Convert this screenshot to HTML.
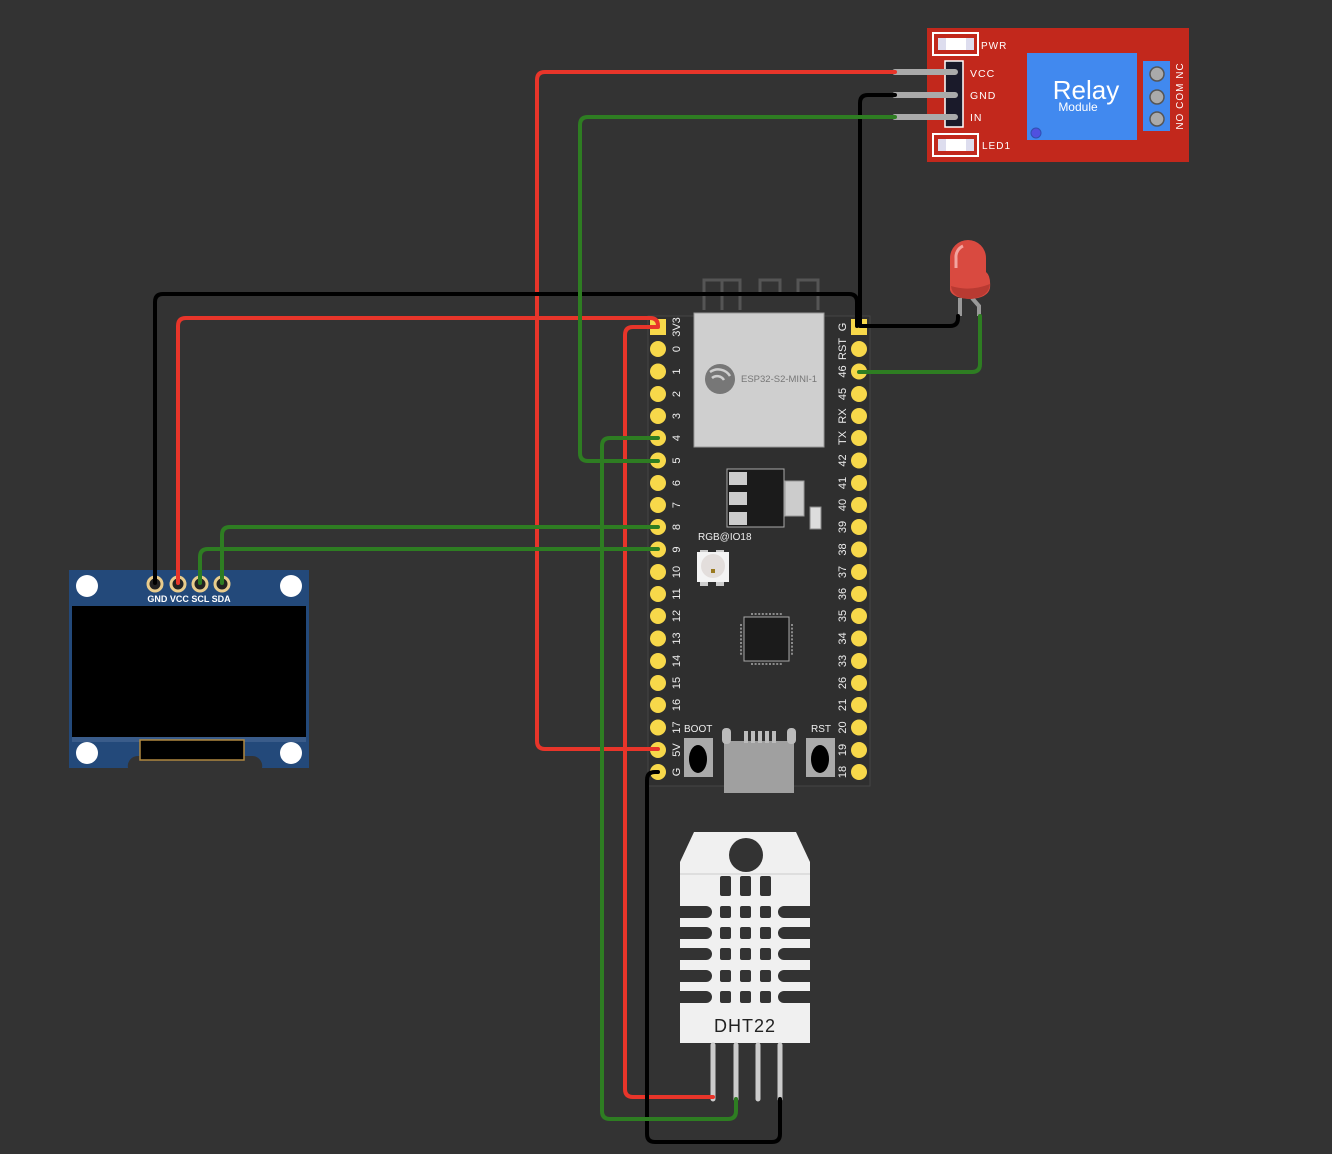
<!DOCTYPE html>
<html><head><meta charset="utf-8"><style>
html,body{margin:0;padding:0;background:#333;}
svg{display:block;}
text{font-family:"Liberation Sans",sans-serif;}
</style></head><body>
<svg width="1332" height="1154" viewBox="0 0 1332 1154" xmlns="http://www.w3.org/2000/svg">
<rect width="1332" height="1154" fill="#333"/>

<g fill="none" stroke="#555" stroke-width="3">
<path d="M704 310 V280 H740 V310 M722 280 V310 M760 296 V280 H780 V296 M798 296 V280 H818 V310"/>
</g>
<rect x="648" y="316" width="222" height="470" fill="#2f2f2f" stroke="#444" stroke-width="1"/>
<rect x="694" y="313" width="130" height="134" fill="#cfcfcf" stroke="#999" stroke-width="1"/>
<circle cx="720" cy="379" r="15" fill="#777"/>
<path d="M710 372 a14 14 0 0 1 20 4 M712 378 a8 8 0 0 1 12 2" stroke="#cfcfcf" stroke-width="2.5" fill="none"/>
<text x="741" y="382" font-family="Liberation Serif,serif" font-size="9.5" fill="#777">ESP32-S2-MINI-1</text>
<rect x="727" y="469" width="57" height="58" fill="#1b1b1b" stroke="#aaa" stroke-width="1"/>
<rect x="729" y="472" width="18" height="13" fill="#ccc"/>
<rect x="729" y="492" width="18" height="13" fill="#ccc"/>
<rect x="729" y="512" width="18" height="13" fill="#ccc"/>
<rect x="785" y="481" width="19" height="35" fill="#ccc" stroke="#999"/>
<rect x="810" y="507" width="11" height="22" fill="#ddd" stroke="#888"/>
<text x="698" y="540" font-size="10" fill="#eee">RGB@IO18</text>
<rect x="700" y="550" width="8" height="36" fill="#ccc"/>
<rect x="716" y="550" width="8" height="36" fill="#ccc"/>
<rect x="697" y="552" width="32" height="30" fill="#f4f4f4"/>
<circle cx="713" cy="566" r="12" fill="#e3dedc"/>
<rect x="711" y="569" width="4" height="4" fill="#9a7a20"/>
<rect x="744" y="617" width="45" height="44" fill="#1b1b1b" stroke="#aaa" stroke-width="1"/>
<g stroke="#aaa" stroke-width="1.5" stroke-dasharray="2 1.6">
<path d="M751 614 H783 M751 664 H783 M741 624 V656 M792 624 V656"/>
</g>
<text x="684" y="732" font-size="10" fill="#eee">BOOT</text>
<text x="811" y="732" font-size="10" fill="#eee">RST</text>
<rect x="684" y="738" width="29" height="39" fill="#aaa"/>
<ellipse cx="698" cy="759" rx="9" ry="14" fill="#000"/>
<rect x="806" y="738" width="29" height="39" fill="#aaa"/>
<ellipse cx="820" cy="759" rx="9" ry="14" fill="#000"/>
<rect x="724" y="741" width="70" height="52" fill="#a0a0a0"/>
<rect x="722" y="728" width="9" height="16" rx="4" fill="#bbb"/>
<rect x="787" y="728" width="9" height="16" rx="4" fill="#bbb"/>
<g fill="#bbb"><rect x="744" y="731" width="4" height="12"/><rect x="751" y="731" width="4" height="12"/><rect x="758" y="731" width="4" height="12"/><rect x="765" y="731" width="4" height="12"/><rect x="772" y="731" width="4" height="12"/></g>

<g fill="#f7d84a">
<rect x="650" y="319" width="16" height="16"/>
<circle cx="658" cy="349" r="8"/><circle cx="658" cy="371.5" r="8"/><circle cx="658" cy="394" r="8"/><circle cx="658" cy="416" r="8"/><circle cx="658" cy="438" r="8"/><circle cx="658" cy="460.5" r="8"/><circle cx="658" cy="483" r="8"/><circle cx="658" cy="505" r="8"/><circle cx="658" cy="527" r="8"/><circle cx="658" cy="549.5" r="8"/><circle cx="658" cy="572" r="8"/><circle cx="658" cy="594" r="8"/><circle cx="658" cy="616" r="8"/><circle cx="658" cy="638.5" r="8"/><circle cx="658" cy="661" r="8"/><circle cx="658" cy="683" r="8"/><circle cx="658" cy="705" r="8"/><circle cx="658" cy="727.5" r="8"/><circle cx="658" cy="750" r="8"/><circle cx="658" cy="772" r="8"/>
<rect x="851" y="319" width="16" height="16"/>
<circle cx="859" cy="349" r="8"/><circle cx="859" cy="371.5" r="8"/><circle cx="859" cy="394" r="8"/><circle cx="859" cy="416" r="8"/><circle cx="859" cy="438" r="8"/><circle cx="859" cy="460.5" r="8"/><circle cx="859" cy="483" r="8"/><circle cx="859" cy="505" r="8"/><circle cx="859" cy="527" r="8"/><circle cx="859" cy="549.5" r="8"/><circle cx="859" cy="572" r="8"/><circle cx="859" cy="594" r="8"/><circle cx="859" cy="616" r="8"/><circle cx="859" cy="638.5" r="8"/><circle cx="859" cy="661" r="8"/><circle cx="859" cy="683" r="8"/><circle cx="859" cy="705" r="8"/><circle cx="859" cy="727.5" r="8"/><circle cx="859" cy="750" r="8"/><circle cx="859" cy="772" r="8"/>
</g>
<g font-size="11" fill="#eee" text-anchor="middle">
<text transform="translate(680,327) rotate(-90)">3V3</text>
<text transform="translate(680,349) rotate(-90)">0</text>
<text transform="translate(680,371.5) rotate(-90)">1</text>
<text transform="translate(680,394) rotate(-90)">2</text>
<text transform="translate(680,416) rotate(-90)">3</text>
<text transform="translate(680,438) rotate(-90)">4</text>
<text transform="translate(680,460.5) rotate(-90)">5</text>
<text transform="translate(680,483) rotate(-90)">6</text>
<text transform="translate(680,505) rotate(-90)">7</text>
<text transform="translate(680,527) rotate(-90)">8</text>
<text transform="translate(680,549.5) rotate(-90)">9</text>
<text transform="translate(680,572) rotate(-90)">10</text>
<text transform="translate(680,594) rotate(-90)">11</text>
<text transform="translate(680,616) rotate(-90)">12</text>
<text transform="translate(680,638.5) rotate(-90)">13</text>
<text transform="translate(680,661) rotate(-90)">14</text>
<text transform="translate(680,683) rotate(-90)">15</text>
<text transform="translate(680,705) rotate(-90)">16</text>
<text transform="translate(680,727.5) rotate(-90)">17</text>
<text transform="translate(680,750) rotate(-90)">5V</text>
<text transform="translate(680,772) rotate(-90)">G</text>
<text transform="translate(846,327) rotate(-90)">G</text>
<text transform="translate(846,349) rotate(-90)">RST</text>
<text transform="translate(846,371.5) rotate(-90)">46</text>
<text transform="translate(846,394) rotate(-90)">45</text>
<text transform="translate(846,416) rotate(-90)">RX</text>
<text transform="translate(846,438) rotate(-90)">TX</text>
<text transform="translate(846,460.5) rotate(-90)">42</text>
<text transform="translate(846,483) rotate(-90)">41</text>
<text transform="translate(846,505) rotate(-90)">40</text>
<text transform="translate(846,527) rotate(-90)">39</text>
<text transform="translate(846,549.5) rotate(-90)">38</text>
<text transform="translate(846,572) rotate(-90)">37</text>
<text transform="translate(846,594) rotate(-90)">36</text>
<text transform="translate(846,616) rotate(-90)">35</text>
<text transform="translate(846,638.5) rotate(-90)">34</text>
<text transform="translate(846,661) rotate(-90)">33</text>
<text transform="translate(846,683) rotate(-90)">26</text>
<text transform="translate(846,705) rotate(-90)">21</text>
<text transform="translate(846,727.5) rotate(-90)">20</text>
<text transform="translate(846,750) rotate(-90)">19</text>
<text transform="translate(846,772) rotate(-90)">18</text>
</g>

<rect x="927" y="28" width="262" height="134" fill="#c2281c"/>
<rect x="933" y="33" width="45" height="22" fill="none" stroke="#fff" stroke-width="2"/>
<rect x="938" y="38" width="36" height="12" fill="#dde"/><rect x="946" y="38" width="20" height="12" fill="#fff"/>
<rect x="933" y="134" width="45" height="22" fill="none" stroke="#fff" stroke-width="2"/>
<rect x="938" y="139" width="36" height="12" fill="#dde"/><rect x="946" y="139" width="20" height="12" fill="#fff"/>
<text x="981" y="49" font-size="10" fill="#fff" letter-spacing="1">PWR</text>
<text x="982" y="149" font-size="10" fill="#fff" letter-spacing="1">LED1</text>
<rect x="945" y="61" width="18" height="66" fill="#1a1a2a" stroke="#fff" stroke-width="1.5"/>
<text x="970" y="77" font-size="10.5" fill="#fff" letter-spacing="1">VCC</text>
<text x="970" y="99" font-size="10.5" fill="#fff" letter-spacing="1">GND</text>
<text x="970" y="121" font-size="10.5" fill="#fff" letter-spacing="1">IN</text>
<rect x="1027" y="53" width="110" height="87" fill="#4189ef"/>
<text x="1086" y="99" font-size="26" fill="#fff" text-anchor="middle">Relay</text>
<text x="1078" y="111" font-size="12" fill="#fff" text-anchor="middle">Module</text>
<circle cx="1036" cy="133" r="5" fill="#5050e0" stroke="#3050b0"/>
<rect x="1143" y="61" width="27" height="70" fill="#4189ef"/>
<circle cx="1157" cy="74" r="7" fill="#aaa" stroke="#555" stroke-width="1.5"/>
<circle cx="1157" cy="97" r="7" fill="#aaa" stroke="#555" stroke-width="1.5"/>
<circle cx="1157" cy="119" r="7" fill="#aaa" stroke="#555" stroke-width="1.5"/>
<text transform="translate(1183,96) rotate(-90)" font-size="10" fill="#fff" text-anchor="middle" letter-spacing="1">NO COM NC</text>
<g stroke="#aaa" stroke-width="6" stroke-linecap="round">
<path d="M895 72 H955 M895 95 H955 M895 117 H955"/>
</g>

<!-- LED -->
<path d="M960 298 V316 M972 298 L979 306 V316" stroke="#999" stroke-width="4" fill="none"/>
<path d="M950 290 V258 a18 18 0 0 1 36 0 V272 Q991 276 990 288 Q988 298 970 299 Q952 298 950 290 Z" fill="#d94a40"/>
<path d="M951 286 Q970 292 990 284 Q989 297 970 299 Q952 298 951 286 Z" fill="#b83a32"/>
<path d="M956 268 V258 a12 12 0 0 1 7 -12" stroke="#f3a49f" stroke-width="3" fill="none"/>

<rect x="69" y="570" width="240" height="198" fill="#23497a"/>
<circle cx="87" cy="586" r="11" fill="#fff"/><circle cx="291" cy="586" r="11" fill="#fff"/>
<circle cx="87" cy="753" r="11" fill="#fff"/><circle cx="291" cy="753" r="11" fill="#fff"/>
<rect x="72" y="606" width="234" height="131" fill="#000"/>
<rect x="72" y="737" width="234" height="5" fill="#3a5c8a"/>
<path d="M128 768 a10 10 0 0 1 10 -12 H252 a10 10 0 0 1 10 12 Z" fill="#333"/>
<rect x="140" y="740" width="104" height="20" fill="#000" stroke="#b08840" stroke-width="1.5"/>
<g fill="#222" stroke="#e9cc8c" stroke-width="3">
<circle cx="155" cy="584" r="7"/><circle cx="178" cy="584" r="7"/><circle cx="200" cy="584" r="7"/><circle cx="222" cy="584" r="7"/>
</g>
<text x="189" y="602" font-size="9" font-weight="bold" fill="#fff" text-anchor="middle">GND VCC SCL SDA</text>

<path d="M680 1043 V862 L694 832 H796 L810 862 V1043 Z" fill="#f0f0f0"/>
<line x1="680" y1="874" x2="810" y2="874" stroke="#ccc" stroke-width="1"/>
<circle cx="746" cy="855" r="17" fill="#333"/>
<g fill="#333">
<rect x="720" y="876" width="11" height="20" rx="2"/><rect x="740" y="876" width="11" height="20" rx="2"/><rect x="760" y="876" width="11" height="20" rx="2"/>
<path d="M680 906 H706 a6 6 0 0 1 0 12 H680Z M680 927 H706 a6 6 0 0 1 0 12 H680Z M680 948 H706 a6 6 0 0 1 0 12 H680Z M680 970 H706 a6 6 0 0 1 0 12 H680Z M680 991 H706 a6 6 0 0 1 0 12 H680Z"/>
<path d="M810 906 H784 a6 6 0 0 0 0 12 H810Z M810 927 H784 a6 6 0 0 0 0 12 H810Z M810 948 H784 a6 6 0 0 0 0 12 H810Z M810 970 H784 a6 6 0 0 0 0 12 H810Z M810 991 H784 a6 6 0 0 0 0 12 H810Z"/>
<rect x="720" y="906" width="11" height="12" rx="2"/><rect x="740" y="906" width="11" height="12" rx="2"/><rect x="760" y="906" width="11" height="12" rx="2"/>
<rect x="720" y="927" width="11" height="12" rx="2"/><rect x="740" y="927" width="11" height="12" rx="2"/><rect x="760" y="927" width="11" height="12" rx="2"/>
<rect x="720" y="948" width="11" height="12" rx="2"/><rect x="740" y="948" width="11" height="12" rx="2"/><rect x="760" y="948" width="11" height="12" rx="2"/>
<rect x="720" y="970" width="11" height="12" rx="2"/><rect x="740" y="970" width="11" height="12" rx="2"/><rect x="760" y="970" width="11" height="12" rx="2"/>
<rect x="720" y="991" width="11" height="12" rx="2"/><rect x="740" y="991" width="11" height="12" rx="2"/><rect x="760" y="991" width="11" height="12" rx="2"/>
</g>
<text x="745" y="1032" font-size="18" fill="#222" text-anchor="middle" letter-spacing="1">DHT22</text>
<g stroke="#ccc" stroke-width="5" stroke-linecap="round">
<path d="M713 1045 V1099 M736 1045 V1099 M758 1045 V1099 M780 1045 V1099"/>
</g>

<g fill="none" stroke-width="4" stroke-linejoin="round" stroke-linecap="round">
<path d="M895 72 H545 Q537 72 537 80 V741 Q537 749 545 749 H658" stroke="#e8352a"/>
<path d="M178 583 V326 Q178 318 186 318 H650 Q658 318 658 326" stroke="#e8352a"/>
<path d="M658 327 H633 Q625 327 625 335 V1089 Q625 1097 633 1097 H713" stroke="#e8352a"/>
<path d="M155 583 V302 Q155 294 163 294 H849 Q857 294 857 302 V326" stroke="#000"/>
<path d="M895 95 H868 Q860 95 860 103 V326 H950 Q958 326 958 318 V316" stroke="#000"/>
<path d="M658 772 H655 Q647 772 647 780 V1134 Q647 1142 655 1142 H772 Q780 1142 780 1134 V1099" stroke="#000"/>
<path d="M895 117 H588 Q580 117 580 125 V453 Q580 461 588 461 H658" stroke="#2e7d22"/>
<path d="M658 438 H610 Q602 438 602 446 V1111 Q602 1119 610 1119 H728 Q736 1119 736 1111 V1099" stroke="#2e7d22"/>
<path d="M658 527 H230 Q222 527 222 535 V583" stroke="#2e7d22"/>
<path d="M658 549 H208 Q200 549 200 557 V583" stroke="#2e7d22"/>
<path d="M980 316 V364 Q980 372 972 372 H859" stroke="#2e7d22"/>
</g>
</svg>
</body></html>
